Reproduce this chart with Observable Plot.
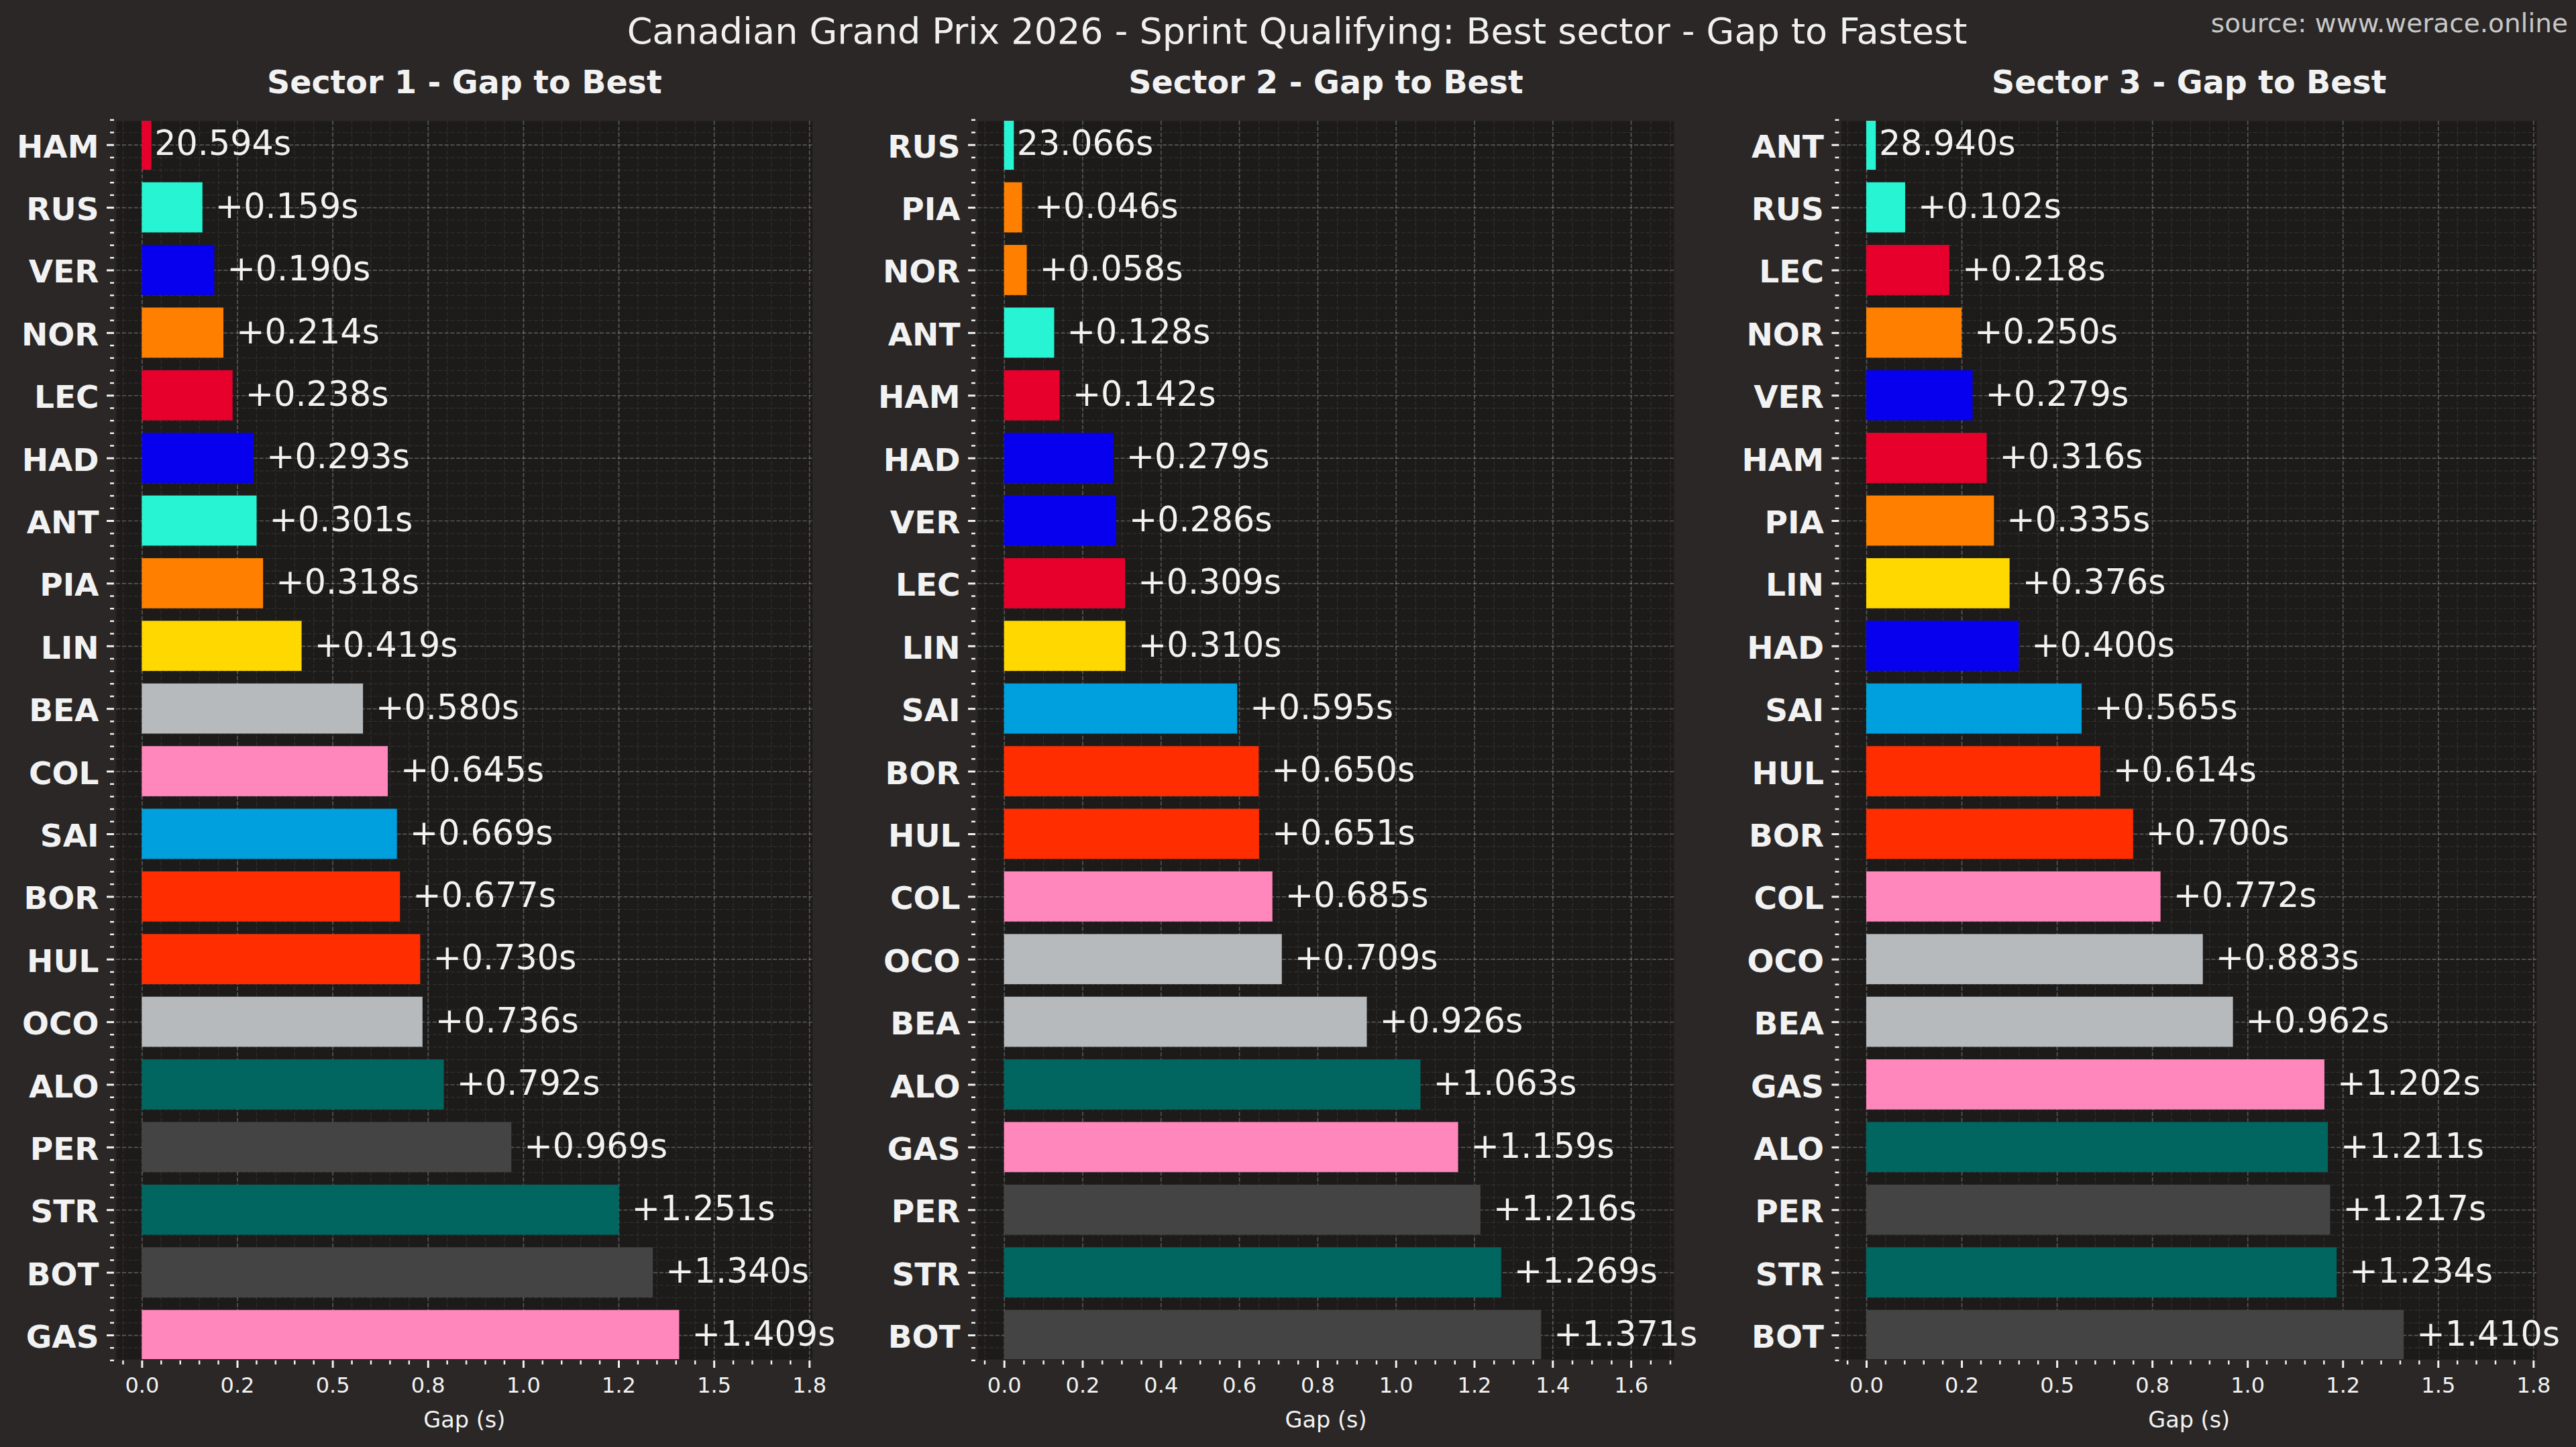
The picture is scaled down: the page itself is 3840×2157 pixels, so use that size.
<!DOCTYPE html>
<html>
<head>
<meta charset="utf-8">
<script src="https://cdn.jsdelivr.net/npm/d3@7"></script>
<script src="https://cdn.jsdelivr.net/npm/@observablehq/plot@0.6"></script>
<style>
html,body{margin:0;padding:0;background:#2a2726;width:3840px;height:2157px;overflow:hidden;}
#page{position:relative;width:3840px;height:2157px;font-family:"DejaVu Sans",sans-serif;}
#title{position:absolute;left:0;width:3867px;top:14px;text-align:center;font-size:54px;line-height:66px;color:#f0f0f0;white-space:nowrap;}
#source{position:absolute;right:12px;top:4px;font-size:39px;line-height:62px;color:#c8c8c8;white-space:nowrap;}
.panel{position:absolute;top:0;}
.panel svg{display:block;}
</style>
</head>
<body>
<div id="page">
<div id="title"></div>
<div id="source"></div>
</div>
<script>
const chartTitle = "Canadian Grand Prix 2026 - Sprint Qualifying: Best sector - Gap to Fastest";
const sourceNote = "source: www.werace.online";
const axisLabel = "Gap (s)";

const s1Drivers = ["HAM","RUS","VER","NOR","LEC","HAD","ANT","PIA","LIN","BEA","COL","SAI","BOR","HUL","OCO","ALO","PER","STR","BOT","GAS"];
const s1Gaps = [0,0.159,0.190,0.214,0.238,0.293,0.301,0.318,0.419,0.580,0.645,0.669,0.677,0.730,0.736,0.792,0.969,1.251,1.340,1.409];
const s1Best = "20.594s";

const s2Drivers = ["RUS","PIA","NOR","ANT","HAM","HAD","VER","LEC","LIN","SAI","BOR","HUL","COL","OCO","BEA","ALO","GAS","PER","STR","BOT"];
const s2Gaps = [0,0.046,0.058,0.128,0.142,0.279,0.286,0.309,0.310,0.595,0.650,0.651,0.685,0.709,0.926,1.063,1.159,1.216,1.269,1.371];
const s2Best = "23.066s";

const s3Drivers = ["ANT","RUS","LEC","NOR","VER","HAM","PIA","LIN","HAD","SAI","HUL","BOR","COL","OCO","BEA","GAS","ALO","PER","STR","BOT"];
const s3Gaps = [0,0.102,0.218,0.250,0.279,0.316,0.335,0.376,0.400,0.565,0.614,0.700,0.772,0.883,0.962,1.202,1.211,1.217,1.234,1.410];
const s3Best = "28.940s";

const bestBarWidth = 0.025;

const wideTicks = [0,0.25,0.5,0.75,1,1.25,1.5,1.75];
const wideTickLabels = ["0.0","0.2","0.5","0.8","1.0","1.2","1.5","1.8"];
const midTicks = [0,0.2,0.4,0.6,0.8,1,1.2,1.4,1.6];
const midTickLabels = ["0.0","0.2","0.4","0.6","0.8","1.0","1.2","1.4","1.6"];

const driverCodes = ["HAM","LEC","RUS","ANT","VER","HAD","NOR","PIA","LIN","BEA","OCO","COL","GAS","SAI","ALO","STR","BOR","HUL","PER","BOT"];
const driverColors = ["#e8002d","#e8002d","#27f4d2","#27f4d2","#0600ef","#0600ef","#ff8000","#ff8000","#ffd800","#b6babd","#b6babd","#ff87bc","#ff87bc","#00a0de","#00665f","#00665f","#ff2d00","#ff2d00","#444444","#444444"];

const panels = [
  {title:"Sector 1 - Gap to Best", drivers:s1Drivers, gaps:s1Gaps, best:s1Best, ticks:wideTicks, tickLabels:wideTickLabels, left:0,    marginLeft:173, frameRight:1210.6, xDomain:[-0.0675,1.7576]},
  {title:"Sector 2 - Gap to Best", drivers:s2Drivers, gaps:s2Gaps, best:s2Best, ticks:midTicks,  tickLabels:midTickLabels,  left:1280, marginLeft:177, frameRight:1215,   xDomain:[-0.068,1.7094]},
  {title:"Sector 3 - Gap to Best", drivers:s3Drivers, gaps:s3Gaps, best:s3Best, ticks:wideTicks, tickLabels:wideTickLabels, left:2560, marginLeft:184.4, frameRight:1221, xDomain:[-0.0662,1.7582]}
];

document.getElementById("title").textContent = chartTitle;
document.getElementById("source").textContent = sourceNote;

const textColor = "#f2f2f2";
const W = 1280, H = 2157;

for (const p of panels) {
  const rows = p.drivers.map((d,i)=>({
    driver:d, rank:i, gap:p.gaps[i],
    bar:Math.max(p.gaps[i], bestBarWidth),
    label:i===0 ? p.best : "+"+p.gaps[i].toFixed(3)+"s"
  }));
  const xMinor = d3.range(-1, 37).map(k=>k*0.05).filter(v=>v>=p.xDomain[0] && v<=p.xDomain[1] && !p.ticks.some(t=>Math.abs(t-v)<1e-6));
  const yMajor = d3.range(0,20);
  const yMinor = d3.range(-2,98).map(k=>k*0.2).filter(v=>Math.abs(v-Math.round(v))>1e-6);
  const yMinorGrid = yMinor.filter(v=>v>=-0.38 && v<=19.385);

  const plot = Plot.plot({
    width:W, height:H,
    marginTop:180, marginBottom:131, marginLeft:p.marginLeft, marginRight:W-p.frameRight,
    style:{fontFamily:"DejaVu Sans",background:"transparent",color:textColor,overflow:"visible"},
    x:{domain:p.xDomain},
    y:{domain:[19.385,-0.382]},
    color:{domain:driverCodes,range:driverColors},
    marks:[
      Plot.frame({fill:"#1c1b1a",stroke:null}),
      Plot.gridX(xMinor,{stroke:"#ffffff",strokeOpacity:0.09,strokeWidth:1.2,strokeDasharray:"6.2,2.7"}),
      Plot.gridY(yMinorGrid,{stroke:"#ffffff",strokeOpacity:0.09,strokeWidth:1.2,strokeDasharray:"6.2,2.7"}),
      Plot.gridX(p.ticks,{stroke:"#ffffff",strokeOpacity:0.26,strokeWidth:1.7,strokeDasharray:"6.2,2.7"}),
      Plot.gridY(yMajor,{stroke:"#ffffff",strokeOpacity:0.26,strokeWidth:1.7,strokeDasharray:"6.2,2.7"}),
      Plot.rect(rows,{x1:0,x2:"bar",y1:d=>d.rank-0.4,y2:d=>d.rank+0.4,fill:"driver",clip:"frame"}),
      Plot.text(rows,{x:"gap",y:"rank",text:"label",textAnchor:"start",dx:18.5,dy:-1,fontSize:50.7,fill:textColor}),
      Plot.axisX(xMinor,{anchor:"bottom",tickSize:6,fill:"none",stroke:textColor,strokeWidth:2.5,dy:2,label:null}),
      Plot.axisX(p.ticks,{anchor:"bottom",tickSize:11,fill:"none",stroke:textColor,strokeWidth:3,dy:2,label:null}),
      Plot.axisX(p.ticks,{anchor:"bottom",tickSize:0,tickPadding:27,fontSize:32,fill:textColor,stroke:"none",
        tickFormat:(d,i)=>p.tickLabels[i],label:null}),
      Plot.text([axisLabel],{frameAnchor:"bottom",lineAnchor:"bottom",dy:101,text:d=>d,fontSize:33.5,fill:textColor}),
      Plot.axisY(yMinor,{anchor:"left",tickSize:6,fill:"none",stroke:textColor,strokeWidth:2.5,dx:-3,label:null}),
      Plot.axisY(yMajor,{anchor:"left",tickSize:11,fill:"none",stroke:textColor,strokeWidth:3,dx:-3,label:null}),
      Plot.axisY(yMajor,{anchor:"left",tickSize:0,tickPadding:26,fontSize:47,fontWeight:"bold",fill:textColor,stroke:"none",dy:3.5,
        tickFormat:d=>p.drivers[d],label:null}),
      Plot.text([p.title],{frameAnchor:"top",lineAnchor:"bottom",dy:-42,text:d=>d,fontSize:47.5,fontWeight:"bold",fill:textColor})
    ]
  });
  const holder = document.createElement("div");
  holder.className = "panel";
  holder.style.left = p.left+"px";
  holder.appendChild(plot);
  document.getElementById("page").appendChild(holder);
}
</script>
</body>
</html>
